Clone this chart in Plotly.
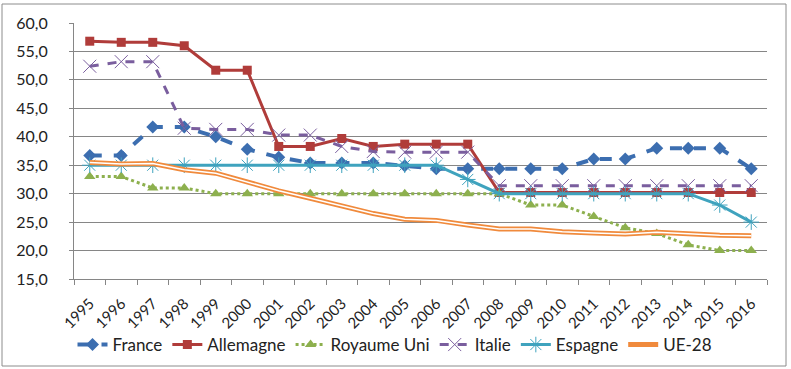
import plotly.graph_objects as go

years = [str(y) for y in range(1995, 2017)]
france = [36.7, 36.7, 41.7, 41.7, 40.0, 37.8, 36.4, 35.4, 35.4, 35.4, 34.9, 34.4,
          34.4, 34.4, 34.4, 34.4, 36.1, 36.1, 38.0, 38.0, 38.0, 34.4]
allemagne = [56.8, 56.6, 56.6, 56.0, 51.7, 51.7, 38.3, 38.3, 39.7, 38.3, 38.7, 38.7,
             38.7, 30.2, 30.2, 30.2, 30.2, 30.2, 30.2, 30.2, 30.2, 30.2]
royaume_uni = [33.0, 33.0, 31.0, 31.0, 30.0, 30.0, 30.0, 30.0, 30.0, 30.0, 30.0, 30.0,
               30.0, 30.0, 28.0, 28.0, 26.0, 24.0, 23.0, 21.0, 20.0, 20.0]
italie = [52.4, 53.2, 53.2, 41.5, 41.3, 41.3, 40.3, 40.3, 38.3, 37.4, 37.3, 37.3,
          37.3, 31.4, 31.4, 31.4, 31.4, 31.4, 31.4, 31.4, 31.4, 31.4]
espagne = [35.0, 35.0, 35.0, 35.0, 35.0, 35.0, 35.0, 35.0, 35.0, 35.0, 35.0, 35.0,
           32.5, 30.0, 30.0, 30.0, 30.0, 30.0, 30.0, 30.0, 28.0, 25.0]
ue28 = [35.5, 35.2, 35.3, 34.2, 33.6, 32.0, 30.5, 29.2, 27.8, 26.5, 25.5, 25.3,
        24.5, 23.8, 23.8, 23.3, 23.1, 22.9, 23.2, 22.9, 22.7, 22.6]
y_ticks = [15, 20, 25, 30, 35, 40, 45, 50, 55, 60]

FONT = "Lato"
fig = go.Figure()

fig.add_trace(go.Scatter(x=years, y=france, name="France", mode="lines+markers",
                         line=dict(color="#3C6EB0", width=4, dash="dash"),
                         marker=dict(symbol="diamond", size=10, color="#3C6EB0")))
fig.add_trace(go.Scatter(x=years, y=allemagne, name="Allemagne", mode="lines+markers",
                         line=dict(color="#B03C3A", width=3),
                         marker=dict(symbol="square", size=9, color="#B03C3A")))
fig.add_trace(go.Scatter(x=years, y=royaume_uni, name="Royaume Uni", mode="lines+markers",
                         line=dict(color="#8DB04E", width=3, dash="dot"),
                         marker=dict(symbol="triangle-up", size=10, color="#8DB04E")))
fig.add_trace(go.Scatter(x=years, y=italie, name="Italie", mode="lines+markers",
                         line=dict(color="#7A5E9E", width=3, dash="dash"),
                         marker=dict(symbol="x-thin-open", size=13,
                                     line=dict(color="#7A5E9E", width=1))))
fig.add_trace(go.Scatter(x=years, y=espagne, name="Espagne", mode="lines+markers",
                         line=dict(color="#3FA3BE", width=3),
                         marker=dict(symbol="asterisk-open", size=13,
                                     line=dict(color="#3FA3BE", width=1))))
fig.add_trace(go.Scatter(x=years, y=ue28, name="UE-28", mode="lines",
                         line=dict(color="#F08A3C", width=5)))
fig.add_trace(go.Scatter(x=years, y=ue28, name="UE-28", mode="lines", showlegend=False,
                         line=dict(color="#FFFFFF", width=1.5), hoverinfo="skip"))

L, R, T, B = 74, 24, 23, 90
W, H = 791, 369
pw, ph = W - L - R, H - T - B

fig.add_shape(type="rect", xref="paper", yref="paper",
              x0=(2 - L) / pw, x1=(786 - L) / pw,
              y0=(H - B - 366) / ph, y1=(H - B - 4) / ph,
              line=dict(color="#8C8C8C", width=1), fillcolor="rgba(0,0,0,0)", layer="below")

fig.update_layout(
    width=W, height=H, autosize=False,
    margin=dict(l=L, r=R, t=T, b=B, autoexpand=False),
    paper_bgcolor="white", plot_bgcolor="white",
    separators=", ",
    font=dict(family=FONT, size=14, color="#222222"),
    showlegend=True,
    legend=dict(orientation="h", xref="container", yref="container",
                x=395 / W, xanchor="center", y=(H - 327) / H, yanchor="top",
                bgcolor="rgba(0,0,0,0)",
                font=dict(family=FONT, size=17, color="#222222"),
                itemwidth=30, tracegroupgap=0),
    xaxis=dict(type="category", range=[-0.5, len(years) - 0.5],
               tickson="boundaries", ticks="outside", ticklen=5,
               tickcolor="#868686", showline=True, linecolor="#868686", showgrid=False,
               tickangle=-45, automargin=False, ticklabelstandoff=9,
               tickfont=dict(family=FONT, size=15)),
    yaxis=dict(range=[15, 60], tickvals=y_ticks, tickformat=".1f", showgrid=True,
               gridcolor="#868686", gridwidth=1, showline=True, linecolor="#868686",
               ticks="outside", ticklen=4, tickcolor="#868686", zeroline=False,
               automargin=False, ticklabelstandoff=18, tickfont=dict(family=FONT, size=16)),
)

fig.write_html("out.html", config={"displayModeBar": False},
               post_script="document.body.style.margin='0px';")
